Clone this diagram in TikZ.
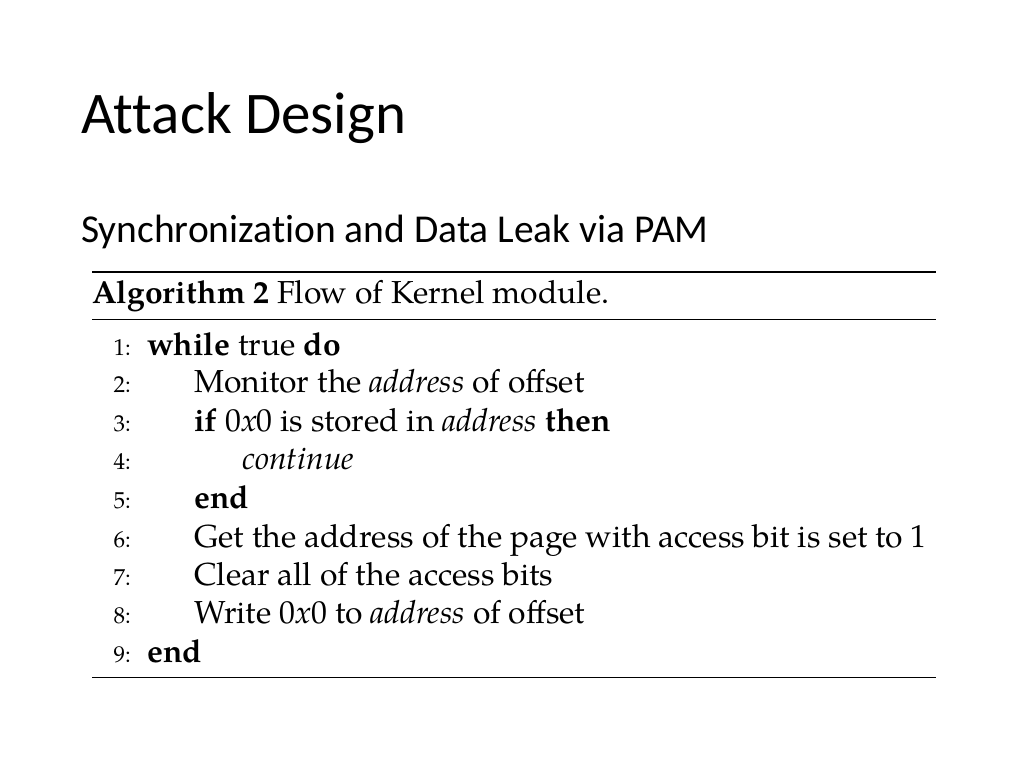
\documentclass[tikz,border=0pt]{standalone}
\usepackage{fontspec}
\newfontfamily\slide{Carlito}[Ligatures=NoCommon]
\setmainfont{TeX Gyre Pagella}
\newcommand{\hx}{0\textit{x}0}
\begin{document}
\begin{tikzpicture}[x=1pt,y=-1pt,
  ln/.style={anchor=base west,inner sep=0pt,font=\fontsize{31.8}{32}\selectfont},
  num/.style={anchor=base east,inner sep=0pt,font=\fontsize{23}{23}\selectfont}]
\useasboundingbox[fill=white] (0,0) rectangle (1024,768);
\node[anchor=base west,inner sep=0pt,font=\slide\fontsize{59}{59}\selectfont] (t) at (81,133) {Attack Design};
\node[anchor=base west,inner sep=0pt,font=\slide\fontsize{39.5}{40}\selectfont] (s) at (81,242) {Synchronization and Data Leak via PAM};
\draw[line width=1.8pt] (92,272) -- (936,272);
\draw[line width=0.9pt] (92,319) -- (936,319);
\draw[line width=0.9pt] (92,677) -- (936,677);
\node[ln] (h) at (92,303) {\textbf{Algorithm 2} Flow of Kernel module.};
\foreach \i/\y in {1/355,2/392,3/431,4/469,5/508,6/547,7/585,8/623,9/662}
  \node[num] (n\i) at (131,\y) {\i:};
\node[ln] (l1) at (147,355) {\textbf{while} true \textbf{do}};
\node[ln] (l2) at (194,392) {Monitor the \emph{address} of offset};
\node[ln] (l3) at (194,431) {\textbf{if} \hx{} is stored in \emph{address} \textbf{then}};
\node[ln] (l4) at (242,469) {\emph{continue}};
\node[ln] (l5) at (194,508) {\textbf{end}};
\node[ln] (l6) at (194,547) {Get the address of the page with access bit is set to 1};
\node[ln] (l7) at (194,585) {Clear all of the access bits};
\node[ln] (l8) at (194,623) {Write \hx{} to \emph{address} of offset};
\node[ln] (l9) at (147,662) {\textbf{end}};
\end{tikzpicture}
\end{document}
